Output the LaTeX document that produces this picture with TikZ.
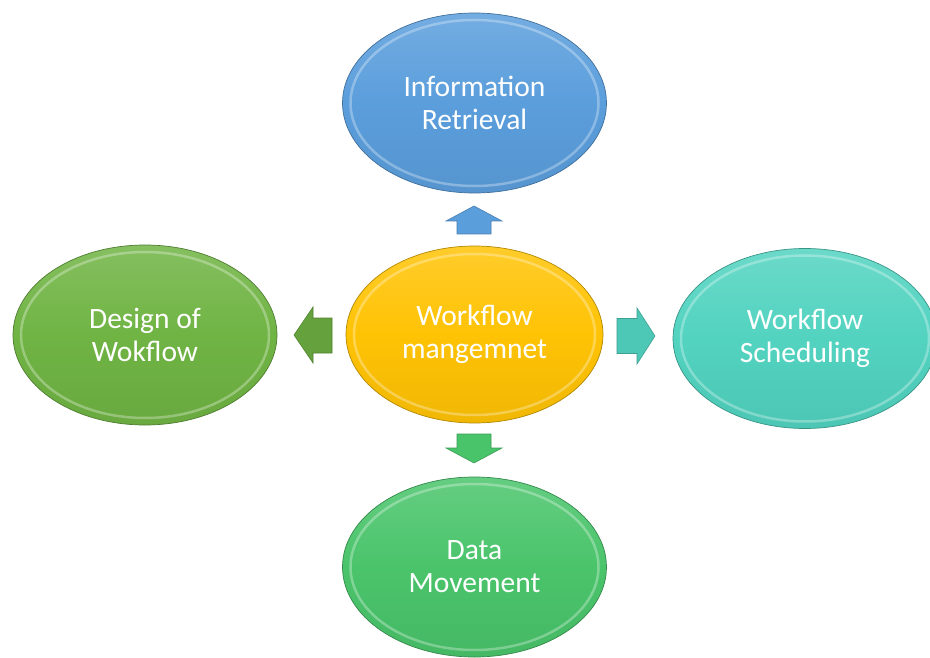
\documentclass[tikz,border=0pt]{standalone}
\usepackage{fontspec}
\setmainfont{Carlito}
\usetikzlibrary{shapes.geometric}

\definecolor{infoblue}{HTML}{5B9EDC}
\definecolor{coregold}{HTML}{FFC305}
\definecolor{designgreen}{HTML}{70B444}
\definecolor{schedteal}{HTML}{52D3C0}
\definecolor{movegreen}{HTML}{4AC46B}

\tikzset{
  bubble/.style={ellipse, minimum width=264pt, minimum height=180pt, inner sep=0pt,
    align=center, text=white, font=\fontsize{29.5}{33}\selectfont,
    draw=#1!70!black, line width=0.7pt,
    top color=#1!85!white, bottom color=#1!94!black, middle color=#1},
  rim/.style={draw=white, draw opacity=0.3, line width=2.5pt},
  blockarrow/.style={fill=#1, draw=#1!80!black, line width=0.6pt, line join=miter},
}

\begin{document}
\begin{tikzpicture}[x=1pt, y=-1pt]
  \useasboundingbox (0,0) rectangle (930,658);

  % satellite topics around the central theme
  \node[bubble=infoblue]    (info)   at (474.5,103) {Information\\Retrieval};
  \node[bubble=designgreen] (design) at (145,335)   {Design of\\Wokflow};
  \node[bubble=schedteal]   (sched)  at (805,338.5) {Workflow\\Scheduling};
  \node[bubble=movegreen]   (move)   at (474.5,567) {Data\\Movement};
  \node[bubble=coregold, minimum width=257pt, minimum height=177pt] (core) at (474.5,334.5) {Workflow\\mangemnet};

  % bevel highlight inside each bubble
  \foreach \n/\rx/\ry in {info/124/83, design/124/83, sched/124/83, move/124/83, core/120.5/80.5}
    \draw[rim] (\n.center) ellipse [x radius=\rx pt, y radius=\ry pt];

  % block arrows pointing from the centre outwards
  \path[blockarrow=infoblue]
    (457,234) -- (457,221) -- (446,221) -- (474,206) -- (502,221) -- (491,221) -- (491,234) -- cycle;
  \path[blockarrow=movegreen]
    (457,434) -- (457,448) -- (446,448) -- (474,463) -- (502,448) -- (491,448) -- (491,434) -- cycle;
  \path[blockarrow=designgreen!90!black]
    (332,318) -- (313,318) -- (313,307) -- (294,335) -- (313,363) -- (313,353) -- (332,353) -- cycle;
  \path[blockarrow=schedteal!95!black]
    (617,318.5) -- (637,318.5) -- (637,308) -- (655,336) -- (637,364) -- (637,353.5) -- (617,353.5) -- cycle;
\end{tikzpicture}
\end{document}
